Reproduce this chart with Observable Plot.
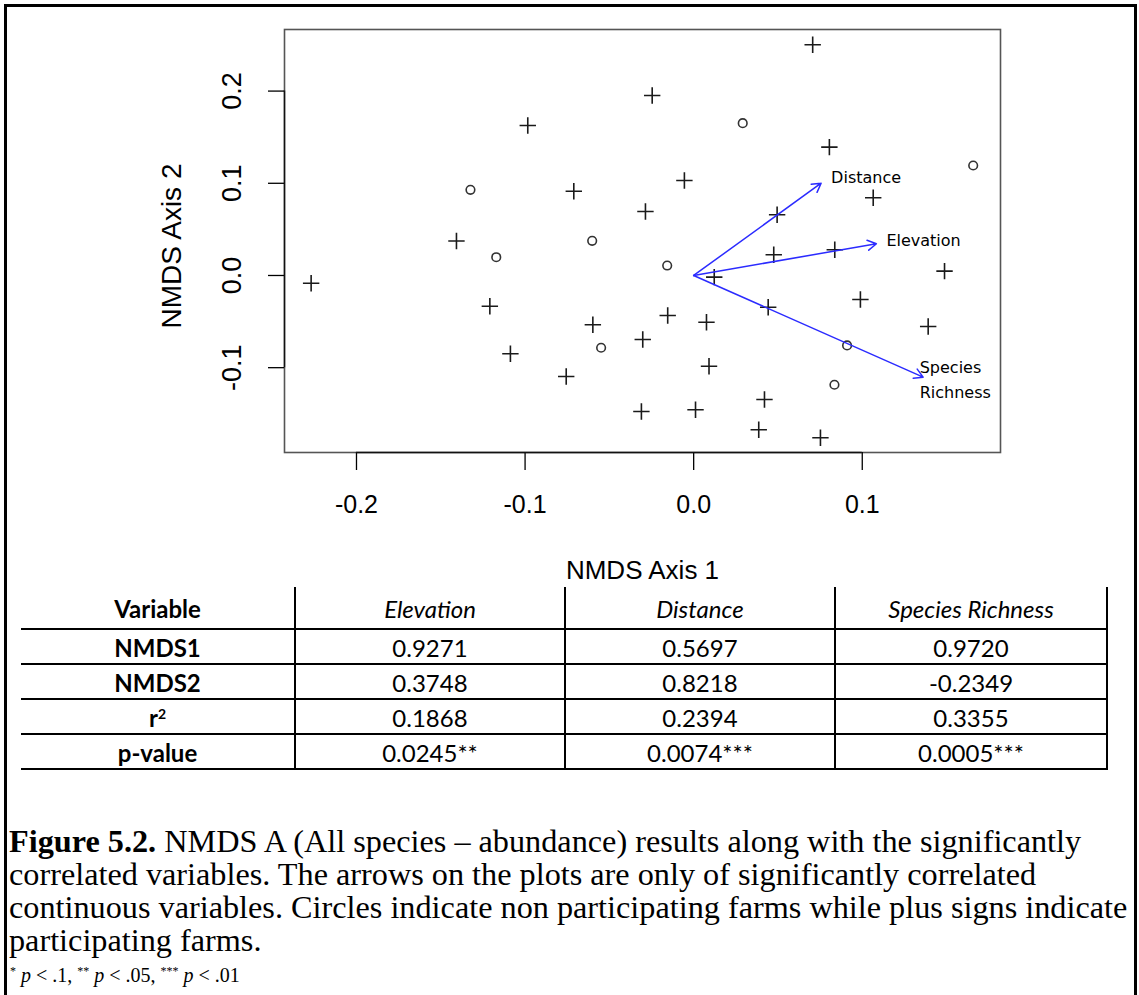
<!DOCTYPE html>
<html>
<head>
<meta charset="utf-8">
<script src="https://cdn.jsdelivr.net/npm/d3@7"></script>
<script src="https://cdn.jsdelivr.net/npm/@observablehq/plot@0.6"></script>
<style>
html,body{margin:0;padding:0;background:#fff;}
#page{position:relative;width:1139px;height:995px;overflow:hidden;background:#fff;}
#border{position:absolute;left:4px;top:4px;width:1133px;height:1200px;border:3px solid #000;box-sizing:border-box;}
#chart{position:absolute;left:0;top:0;}
#tbl{position:absolute;left:21px;top:587px;display:grid;grid-template-columns:275px 270px 270px 272px;grid-template-rows:43px 35px 35px 35px 35px;font-family:Lato,"Open Sans",sans-serif;font-size:24px;color:#000;}
.cell{box-sizing:border-box;border-right:2px solid #000;border-bottom:2px solid #000;display:flex;align-items:center;justify-content:center;padding-top:2px;}
.c0{font-weight:bold}
.it{font-style:italic}
.cell sup{font-size:14px;position:relative;top:-4px;}
#caption{position:absolute;left:9px;top:825px;font-family:"Liberation Serif","Times New Roman",serif;font-size:31px;line-height:33px;white-space:nowrap;transform-origin:0 0;transform:scaleX(1.04);color:#000;}
#foot{position:absolute;left:10px;top:963px;font-family:"Liberation Serif","Times New Roman",serif;font-size:20px;line-height:24px;white-space:nowrap;color:#000;}
#foot sup{font-size:12px;vertical-align:top;position:relative;top:-4px;}
</style>
</head>
<body>
<div id="page">
  <div id="border"></div>
  <div id="chart"></div>
  <div id="tbl"></div>
  <div id="caption"><b>Figure 5.2.</b> NMDS A (All species – abundance) results along with the significantly<br>correlated variables. The arrows on the plots are only of significantly correlated<br>continuous variables. Circles indicate non participating farms while plus signs indicate<br>participating farms.</div>
  <div id="foot"><sup>*</sup> <i>p</i> &lt; .1, <sup>**</sup> <i>p</i> &lt; .05, <sup>***</sup> <i>p</i> &lt; .01</div>
</div>
<script>
// ---- data ----
const plusX = [-0.2269, 0.0706, -0.0246, -0.0984, 0.0805, -0.0711, -0.0055, 0.1065, -0.0286, 0.0495, -0.1407, 0.0475, 0.0837, 0.0122, 0.1488, -0.1209, 0.0989, -0.0598, -0.0154, 0.0076, 0.0442, 0.1391, -0.1087, -0.0302, 0.0091, -0.0756, 0.0420, -0.0310, 0.0011, 0.0386, 0.0752];
const plusY = [-0.0084, 0.2502, 0.1952, 0.1627, 0.1392, 0.0914, 0.1030, 0.0843, 0.0694, 0.0658, 0.0374, 0.0225, 0.0279, -0.0018, 0.0047, -0.0333, -0.0260, -0.0535, -0.0434, -0.0507, -0.0344, -0.0553, -0.0849, -0.0694, -0.0984, -0.1095, -0.1345, -0.1475, -0.1457, -0.1674, -0.1760];
const circleX = [0.0291, 0.1658, -0.1324, -0.0602, -0.1171, -0.0157, -0.0549, 0.0910, 0.0835];
const circleY = [0.1652, 0.1193, 0.0929, 0.0376, 0.0198, 0.0108, -0.0784, -0.0759, -0.1185];
const vectorNames = ["Distance", "Elevation", "Species\nRichness"];
const vectorX = [0.0756, 0.1084, 0.1361];
const vectorY = [0.1001, 0.0344, -0.1103];
const xTicks = [-0.2, -0.1, 0.0, 0.1];
const yTicks = [-0.1, 0.0, 0.1, 0.2];
const xDomain = [-0.2427, 0.1820];
const yDomain = [-0.1920, 0.2668];
const xTitle = "NMDS Axis 1";
const yTitle = "NMDS Axis 2";

const tableHeader = ["Variable", "Elevation", "Distance", "Species Richness"];
const rowLabels = ["NMDS1", "NMDS2", "r<sup>2</sup>", "p-value"];
const elevationCol = ["0.9271", "0.3748", "0.1868", "0.0245**"];
const distanceCol = ["0.5697", "0.8218", "0.2394", "0.0074***"];
const richnessCol = ["0.9720", "-0.2349", "0.3355", "0.0005***"];

// ---- build ----
const plus = plusX.map((x, i) => ({x, y: plusY[i]}));
const circles = circleX.map((x, i) => ({x, y: circleY[i]}));
const vectors = vectorNames.map((name, i) => ({name, x: vectorX[i], y: vectorY[i]}));
const fmt = d => d.toFixed(1);

const plusSymbol = {
  draw(ctx, size) {
    const h = Math.sqrt(size / Math.PI);
    ctx.moveTo(-h, 0); ctx.lineTo(h, 0);
    ctx.moveTo(0, -h); ctx.lineTo(0, h);
  }
};

const blue = "#2b2bff";
const labelFont = "'DejaVu Sans', sans-serif";

const chart = Plot.plot({
  width: 1139,
  height: 587,
  marginLeft: 284,
  marginRight: 139,
  marginTop: 29,
  marginBottom: 135,
  x: {domain: xDomain},
  y: {domain: yDomain},
  style: {fontFamily: "'Liberation Sans', Arial, sans-serif", background: "transparent", color: "#000"},
  marks: [
    Plot.frame({stroke: "#555", strokeWidth: 1.6}),
    Plot.axisX(xTicks, {anchor: "bottom", tickSize: 18, tickPadding: 25, tickFormat: fmt, fontSize: 25, strokeWidth: 1.3, label: null}),
    Plot.ruleY([yDomain[0]], {x1: xTicks[0], x2: xTicks[xTicks.length - 1], stroke: "#111", strokeWidth: 1.4}),
    Plot.axisY(yTicks, {anchor: "left", tickSize: 16, tickPadding: 28, tickRotate: -90, tickFormat: fmt, fontSize: 27, strokeWidth: 1.3, label: null}),
    Plot.ruleX([xDomain[0]], {y1: yTicks[0], y2: yTicks[yTicks.length - 1], stroke: "#111", strokeWidth: 1.4}),
    Plot.text([xTitle], {frameAnchor: "bottom", dy: 118, fontSize: 26, textAnchor: "middle", lineAnchor: "middle", text: d => d}),
    Plot.text([yTitle], {frameAnchor: "left", dx: -112, dy: 5, rotate: -90, fontSize: 28, textAnchor: "middle", lineAnchor: "middle", text: d => d}),
    Plot.dot(circles, {x: "x", y: "y", symbol: "circle", r: 4.3, stroke: "#333", strokeWidth: 1.6, fill: "none"}),
    Plot.dot(plus, {x: "x", y: "y", symbol: plusSymbol, r: 8.2, stroke: "#1a1a1a", strokeWidth: 1.6, fill: "none"}),
    Plot.arrow(vectors, {x1: 0, y1: 0, x2: "x", y2: "y", stroke: blue, strokeWidth: 1.5, headLength: 10, headAngle: 60}),
    Plot.text(vectors.filter(d => d.name === "Distance"), {x: "x", y: "y", text: "name", textAnchor: "start", lineAnchor: "middle", dx: 10, dy: -5.3, fontSize: 16, fontFamily: labelFont}),
    Plot.text(vectors.filter(d => d.name === "Elevation"), {x: "x", y: "y", text: "name", textAnchor: "start", lineAnchor: "middle", dx: 10, dy: -2.6, fontSize: 16, fontFamily: labelFont}),
    Plot.text(vectors.filter(d => d.name.startsWith("Species")), {x: "x", y: "y", text: "name", textAnchor: "start", lineAnchor: "middle", lineHeight: 1.62, dx: -3.4, dy: 0, fontSize: 16, fontFamily: labelFont})
  ]
});
document.getElementById("chart").appendChild(chart);

// table
const tbl = document.getElementById("tbl");
const addCell = (html, cls) => {
  const d = document.createElement("div");
  d.className = "cell " + cls;
  d.innerHTML = html;
  tbl.appendChild(d);
};
tableHeader.forEach((h, j) => addCell(h, j === 0 ? "c0" : "it"));
rowLabels.forEach((lab, i) => {
  addCell(lab, "c0");
  addCell(elevationCol[i], "");
  addCell(distanceCol[i], "");
  addCell(richnessCol[i], "");
});
</script>
</body>
</html>
